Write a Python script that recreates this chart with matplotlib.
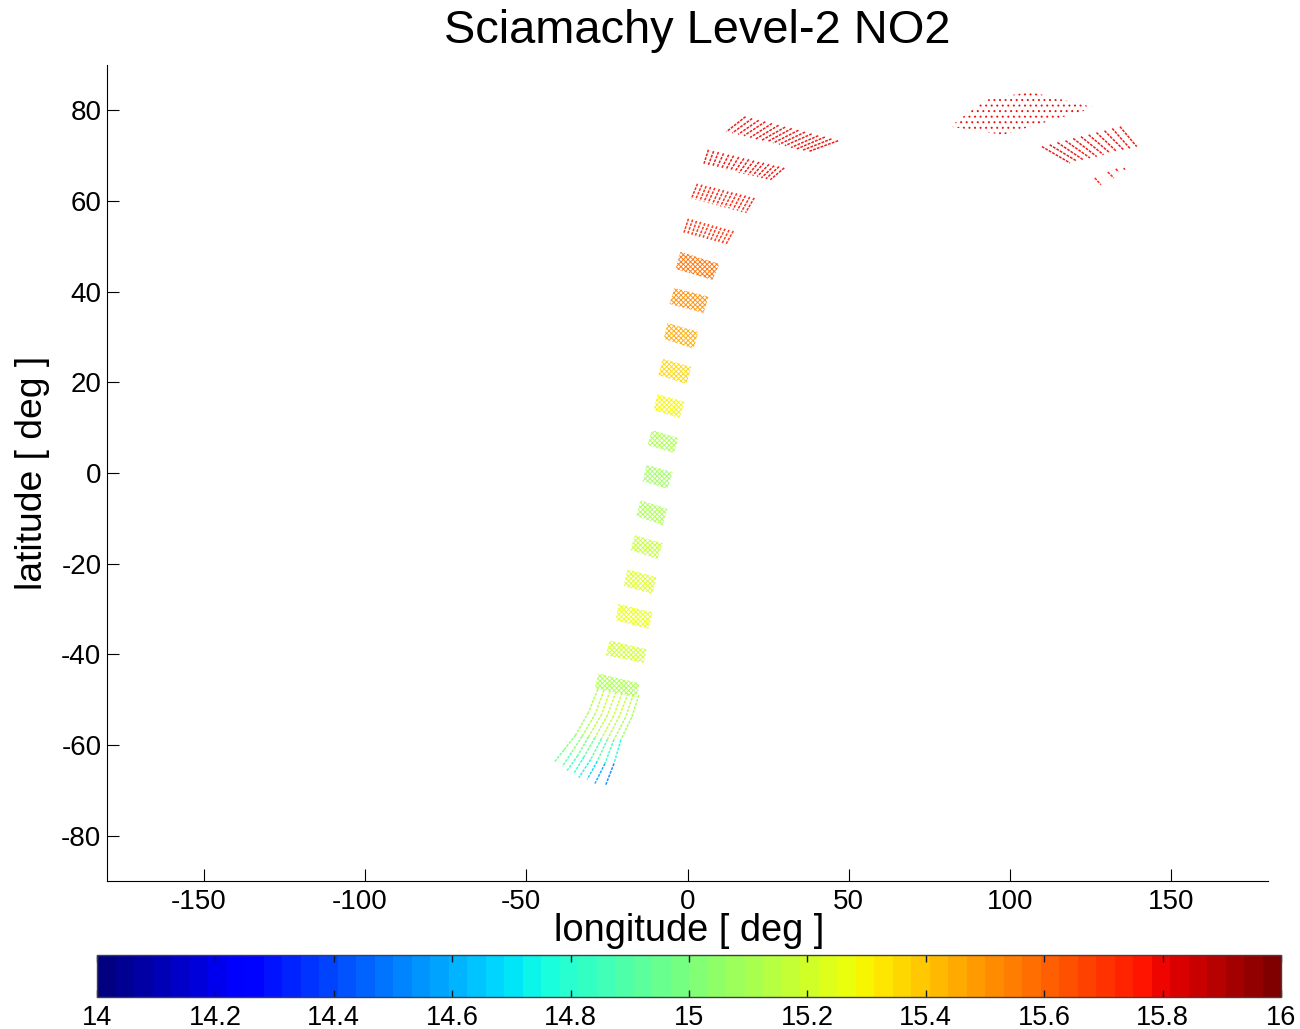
# Sciamachy Level-2 NO2 swath map
import matplotlib
matplotlib.use("Agg")
import matplotlib.pyplot as plt
from matplotlib.patches import Polygon
from matplotlib.collections import LineCollection
from matplotlib.cm import ScalarMappable
from matplotlib.colors import Normalize
from matplotlib.transforms import ScaledTranslation

plt.rcParams['font.family'] = ['Liberation Sans', 'DejaVu Sans']
plt.rcParams['axes.unicode_minus'] = False
plt.rcParams['hatch.linewidth'] = 0.7

# dense scan blocks along the orbit, south to north: corner lon/lat and log10 column
block_lons = [
    [-27.6, -14.9, -15.8, -28.8],
    [-24.1, -12.7, -13.6, -25.4],
    [-21.4, -10.8, -12.1, -22.3],
    [-18.6, -9.6, -10.8, -19.8],
    [-16.4, -7.7, -9.3, -17.6],
    [-14.6, -6.2, -7.7, -15.8],
    [-12.7, -4.6, -6.2, -13.9],
    [-11.1, -2.8, -4.3, -12.4],
    [-9.3, -0.9, -2.5, -10.5],
    [-7.7, 1.2, -0.3, -9.0],
    [-6.2, 3.4, 1.9, -7.4],
    [-4.0, 6.5, 5.0, -5.6],
    [-2.2, 9.9, 7.7, -3.7],
    [81.4, 92.3, 106.2, 126.3, 97.8],
]
block_lats = [
    [-44.2, -46.4, -49.4, -47.5],
    [-36.9, -38.9, -41.9, -40.2],
    [-28.9, -30.7, -34.4, -32.5],
    [-21.2, -23.0, -26.7, -24.9],
    [-13.7, -15.5, -19.0, -17.0],
    [-6.0, -7.9, -11.5, -9.5],
    [1.8, 0.2, -3.5, -1.8],
    [9.5, 7.7, 4.4, 6.2],
    [17.4, 15.7, 12.1, 13.9],
    [25.2, 23.4, 19.6, 21.6],
    [33.1, 31.1, 27.4, 29.6],
    [40.8, 38.9, 35.3, 37.3],
    [48.8, 46.1, 42.6, 45.0],
    [76.4, 82.3, 84.1, 80.6, 74.6],
]
block_vals = [15.12, 15.2, 15.28, 15.22, 15.16, 15.12, 15.08, 15.1, 15.3,
              15.36, 15.46, 15.52, 15.58, 15.8]

# streaky northern blocks: one end and other end of every streak
streak_lon_a = [
    [0.3, 1.6, 2.8, 4.1, 5.4, 6.6, 7.9, 9.1, 10.4, 11.7, 12.9, 14.2],
    [3.1, 4.5, 5.8, 7.2, 8.5, 9.9, 11.2, 12.6, 13.9, 15.3, 16.6, 18.0, 19.3, 20.7],
    [6.5, 8.1, 9.6, 11.2, 12.8, 14.3, 15.9, 17.5, 19.0, 20.6, 22.2, 23.7, 25.3, 26.9, 28.4, 30.0],
    [18.0, 20.05, 22.1, 24.15, 26.2, 28.25, 30.3, 32.35, 34.4, 36.45, 38.5, 40.55, 42.6, 44.65, 46.7],
    [109.9, 112.3, 114.7, 117.2, 119.6, 122.0, 124.4, 126.8, 129.3, 131.7, 134.1],
]
streak_lat_a = [
    [56.1, 55.9, 55.6, 55.4, 55.1, 54.9, 54.6, 54.4, 54.1, 53.9, 53.6, 53.4],
    [63.8, 63.6, 63.3, 63.1, 62.9, 62.6, 62.4, 62.1, 61.9, 61.7, 61.4, 61.2, 60.9, 60.7],
    [71.3, 71.0, 70.8, 70.5, 70.2, 70.0, 69.7, 69.4, 69.2, 68.9, 68.6, 68.4, 68.1, 67.8, 67.6, 67.3],
    [78.6, 78.2, 77.8, 77.5, 77.1, 76.7, 76.3, 76.0, 75.6, 75.2, 74.8, 74.4, 74.1, 73.7, 73.3],
    [72.0, 72.4, 72.9, 73.3, 73.8, 74.2, 74.6, 75.1, 75.5, 76.0, 76.4],
]
streak_lon_b = [
    [-1.2, 0.0, 1.2, 2.3, 3.5, 4.7, 5.9, 7.1, 8.3, 9.4, 10.6, 11.8],
    [1.2, 2.5, 3.8, 5.1, 6.4, 7.7, 9.0, 10.2, 11.5, 12.8, 14.1, 15.4, 16.7, 18.0],
    [5.0, 6.4, 7.8, 9.1, 10.5, 11.9, 13.3, 14.7, 16.0, 17.4, 18.8, 20.2, 21.6, 22.9, 24.3, 25.7],
    [12.1, 13.9, 15.7, 17.5, 19.4, 21.2, 23.0, 24.8, 26.6, 28.4, 30.2, 32.1, 33.9, 35.7, 37.5],
    [118.6, 120.7, 122.7, 124.8, 126.9, 129.0, 131.0, 133.1, 135.2, 137.2, 139.3],
]
streak_lat_b = [
    [52.8, 52.6, 52.3, 52.1, 51.9, 51.7, 51.4, 51.2, 51.0, 50.8, 50.5, 50.3],
    [60.5, 60.3, 60.0, 59.8, 59.6, 59.3, 59.1, 58.8, 58.6, 58.4, 58.1, 57.9, 57.6, 57.4],
    [68.0, 67.8, 67.6, 67.3, 67.1, 66.9, 66.7, 66.5, 66.2, 66.0, 65.8, 65.6, 65.4, 65.1, 64.9, 64.7],
    [75.3, 75.0, 74.7, 74.4, 74.0, 73.7, 73.4, 73.1, 72.8, 72.5, 72.2, 71.8, 71.5, 71.2, 70.9],
    [68.4, 68.8, 69.1, 69.5, 69.8, 70.2, 70.6, 70.9, 71.3, 71.6, 72.0],
]
streak_vals = [15.74, 15.76, 15.8, 15.8, 15.8]

# curved tail south of -48 deg: points of each streak from north to south
tail_lons = [
    [-27.8, -30.7, -34.7, -38.3, -41.2],
    [-25.9, -28.5, -32.7, -36.0, -38.8],
    [-24.0, -26.6, -30.7, -34.0, -37.5],
    [-22.2, -24.8, -28.7, -32.1, -35.2],
    [-20.3, -22.9, -26.7, -30.0, -33.7],
    [-18.4, -21.1, -24.8, -28.0, -31.1],
    [-16.8, -19.2, -22.8, -25.6, -28.7],
    [-15.1, -17.3, -20.7, -22.8, -25.4],
]
tail_lats = [
    [-47.7, -52.8, -57.8, -61.1, -63.7],
    [-47.9, -53.0, -58.1, -61.7, -64.7],
    [-48.1, -53.2, -58.2, -62.3, -65.8],
    [-48.3, -53.4, -58.4, -62.6, -66.2],
    [-48.5, -53.6, -58.6, -63.2, -67.2],
    [-48.6, -53.6, -58.7, -63.6, -67.6],
    [-48.8, -53.9, -58.8, -64.1, -68.5],
    [-49.0, -53.9, -58.9, -64.1, -68.9],
]
tail_vals = [
    [15.12, 15.08, 15.02, 14.95],
    [15.14, 15.1, 15.0, 14.9],
    [15.16, 15.14, 14.95, 14.85],
    [15.16, 15.14, 14.92, 14.8],
    [15.18, 15.16, 14.9, 14.72],
    [15.16, 15.14, 14.88, 14.66],
    [15.14, 15.12, 14.82, 14.58],
    [15.12, 15.08, 14.78, 14.5],
]

# last short streaks in the north east
stub_lons = [[126.3, 128.2], [130.3, 132.2], [132.8, 133.7], [135.3, 135.6]]
stub_lats = [[65.1, 63.6], [66.4, 65.1], [67.1, 66.4], [67.3, 66.9]]
stub_vals = [15.78, 15.78, 15.8, 15.8]

lon_ticks = [-150, -100, -50, 0, 50, 100, 150]
lat_ticks = [-80, -60, -40, -20, 0, 20, 40, 60, 80]
cbar_ticks = [14, 14.2, 14.4, 14.6, 14.8, 15, 15.2, 15.4, 15.6, 15.8, 16]
cbar_labels = ['14', '14.2', '14.4', '14.6', '14.8', '15', '15.2', '15.4', '15.6', '15.8', '16']

W, H = 1300, 1029
fig = plt.figure(figsize=(W / 100, H / 100), dpi=100)
ax = fig.add_axes([107 / W, 1 - 881 / H, 1161 / W, 816 / H])

cmap = plt.get_cmap('jet', 64)
norm = Normalize(14, 16)

for lons, lats, val in zip(block_lons, block_lats, block_vals):
    hatch = '...' if lons[0] > 80 else 'xxxxxxx'
    ax.add_patch(Polygon(list(zip(lons, lats)), closed=True, facecolor='none',
                         edgecolor=cmap(norm(val)), hatch=hatch, linewidth=0, alpha=0.9))

segs = []
seg_vals = []
for lon_a, lat_a, lon_b, lat_b, val in zip(streak_lon_a, streak_lat_a, streak_lon_b, streak_lat_b, streak_vals):
    for x0, y0, x1, y1 in zip(lon_a, lat_a, lon_b, lat_b):
        segs.append([(x0, y0), (x1, y1)])
        seg_vals.append(val)
for lons, lats, vals in zip(tail_lons, tail_lats, tail_vals):
    pts = list(zip(lons, lats))
    for i in range(len(pts) - 1):
        segs.append(pts[i:i + 2])
    seg_vals += vals
for lons, lats, val in zip(stub_lons, stub_lats, stub_vals):
    segs.append(list(zip(lons, lats)))
    seg_vals.append(val)
ax.add_collection(LineCollection(segs, colors=cmap(norm(seg_vals)), linewidths=1.1,
                                 linestyles=[(0, (1.8, 0.8))], alpha=0.9))

ax.set_xlim(-180, 180)
ax.set_ylim(-90, 90)
ax.set_xticks(lon_ticks)
ax.set_yticks(lat_ticks)
ax.tick_params(direction='in', length=8.6, width=0.8, labelsize=20)
ax.tick_params(axis='y', pad=4)
ax.tick_params(axis='x', pad=6)
# negative longitude labels sit a little left of their ticks
shift = ScaledTranslation(-5 / 100, 0, fig.dpi_scale_trans)
for lab, tick in zip(ax.get_xticklabels(), lon_ticks):
    if tick < 0:
        lab.set_transform(lab.get_transform() + shift)
ax.spines['top'].set_visible(False)
ax.spines['right'].set_visible(False)
ax.set_xlabel('longitude [ deg ]', fontsize=27.4)
ax.set_ylabel('latitude [ deg ]', fontsize=26.8)
ax.xaxis.set_label_coords(0.5015, -0.061, transform=ax.transAxes)
ax.yaxis.set_label_coords(-0.0645, 0.5, transform=ax.transAxes)
ax.xaxis.label.set_va('center')
ax.yaxis.label.set_va('center')
ax.set_title('Sciamachy Level-2 NO2', fontsize=33.8, x=0.508, y=1.0, pad=16)

cax = fig.add_axes([97 / W, 1 - 997 / H, 1184 / W, 42 / H])
cb = fig.colorbar(ScalarMappable(norm=norm, cmap=cmap), cax=cax, orientation='horizontal')
cb.set_ticks(cbar_ticks, labels=cbar_labels)
cb.ax.tick_params(direction='in', length=5, width=1, top=True, bottom=True, labelsize=19.5,
                  pad=6, color='#101828')
cb.ax.minorticks_off()
cb.outline.set_edgecolor('#404040')
cb.outline.set_linewidth(1.0)

fig.savefig('out.png', dpi=100)
